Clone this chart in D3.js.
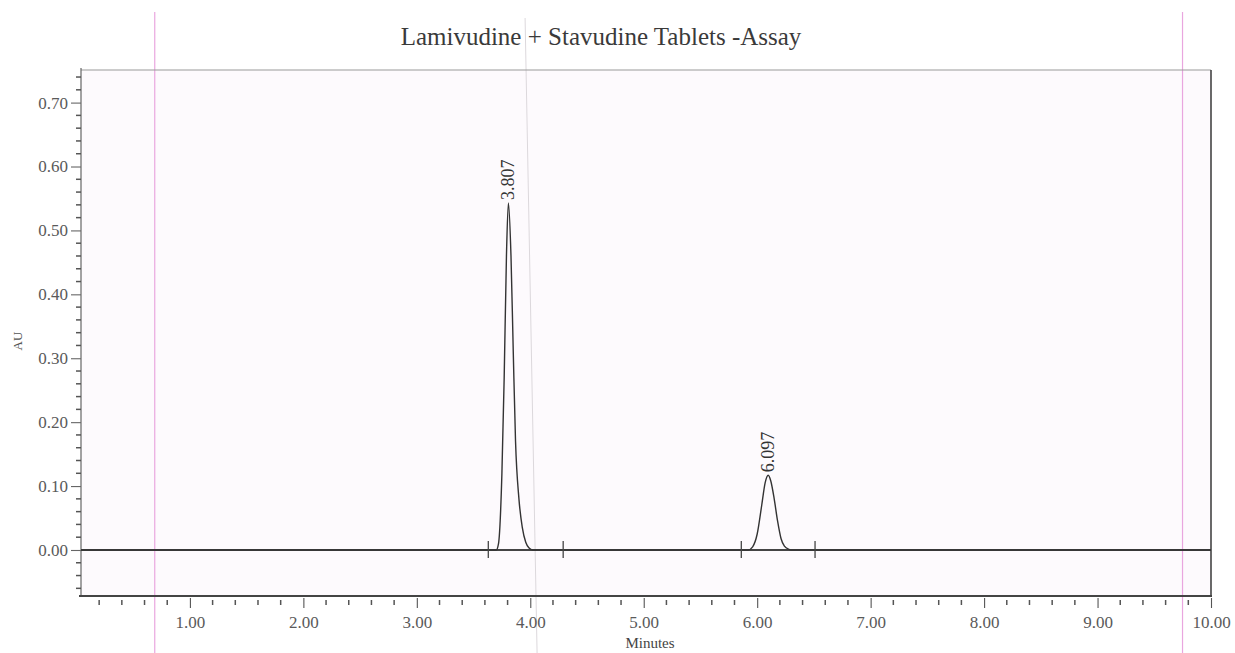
<!DOCTYPE html>
<html>
<head>
<meta charset="utf-8">
<script src="https://cdn.jsdelivr.net/npm/d3@7"></script>
<style>
  body { margin: 0; background: #fff; }
  svg text { font-family: "Liberation Serif", "DejaVu Serif", serif; fill: #4a4a4a; }
</style>
</head>
<body>
<svg id="chart" width="1235" height="653"></svg>
<script>
// chromatogram trace (minutes, AU)
var traceTime = [0.04, 3.70, 3.72, 3.75, 3.77, 3.79, 3.807, 3.83, 3.85, 3.87, 3.90, 3.93, 3.96, 3.99, 4.02,
                 5.92, 5.96, 6.00, 6.04, 6.07, 6.097, 6.12, 6.15, 6.18, 6.21, 6.24, 6.28, 6.30, 10.0];
var traceAU   = [0, 0, 0.01, 0.12, 0.27, 0.46, 0.543, 0.46, 0.31, 0.17, 0.08, 0.035, 0.012, 0.003, 0,
                 0, 0.005, 0.025, 0.07, 0.105, 0.117, 0.108, 0.08, 0.045, 0.018, 0.006, 0.001, 0, 0];
var peakTimes = [3.807, 6.097];
var peakHeights = [0.543, 0.117];
var peakLabels = ["3.807", "6.097"];
var integrationMarks = [3.63, 4.29, 5.86, 6.51];
var xTicks = [1, 2, 3, 4, 5, 6, 7, 8, 9, 10];
var yTicks = [0, 0.1, 0.2, 0.3, 0.4, 0.5, 0.6, 0.7];
var pinkLines = [0.69, 9.749];
var greyLines = [4.06];

(function() {
var svg = d3.select("#chart");
var pLeft = 81, pRight = 1211, pTop = 70, pBottom = 596;

var x = d3.scaleLinear().domain([0.04, 10.0]).range([pLeft, pRight]);
var y = d3.scaleLinear().domain([-0.072, 0.751]).range([pBottom, pTop]);

// plot background
svg.append("rect")
  .attr("x", pLeft).attr("y", pTop)
  .attr("width", pRight - pLeft).attr("height", pBottom - pTop)
  .attr("fill", "#fdfafd");

// scan artefact lines
svg.selectAll("line.pink").data(pinkLines).enter().append("line")
  .attr("class", "pink")
  .attr("x1", function(d) { return x(d); }).attr("x2", function(d) { return x(d); })
  .attr("y1", 12).attr("y2", 653)
  .attr("stroke", "#e9a6df").attr("stroke-width", 1.2);
svg.selectAll("line.grey").data(greyLines).enter().append("line")
  .attr("class", "grey")
  .attr("x1", function(d) { return x(d) - 12; }).attr("x2", function(d) { return x(d); })
  .attr("y1", 18).attr("y2", 653)
  .attr("stroke", "#dcd8dc").attr("stroke-width", 1);

// title
svg.append("text")
  .attr("x", 601).attr("y", 45)
  .attr("text-anchor", "middle")
  .style("font-size", "25px")
  .style("fill", "#3a3a3a")
  .text("Lamivudine + Stavudine Tablets -Assay");

// frame
svg.append("line").attr("x1", pLeft).attr("x2", pRight).attr("y1", pTop).attr("y2", pTop)
  .attr("stroke", "#999").attr("stroke-width", 1.2);
svg.append("line").attr("x1", pRight).attr("x2", pRight).attr("y1", pTop).attr("y2", pBottom)
  .attr("stroke", "#444").attr("stroke-width", 1.6);
svg.append("line").attr("x1", pLeft).attr("x2", pLeft).attr("y1", pTop - 2).attr("y2", pBottom)
  .attr("stroke", "#666").attr("stroke-width", 1.2);
svg.append("line").attr("x1", pLeft - 2).attr("x2", pRight + 1).attr("y1", pBottom).attr("y2", pBottom)
  .attr("stroke", "#444").attr("stroke-width", 2);

// y axis
var yMinor = d3.range(-0.06, 0.751, 0.02).filter(function(v) { return Math.abs(Math.round(v * 10) - v * 10) > 0.01; });
svg.selectAll("line.yminor").data(yMinor).enter().append("line")
  .attr("class", "yminor")
  .attr("x1", pLeft - 5).attr("x2", pLeft)
  .attr("y1", function(d) { return y(d); }).attr("y2", function(d) { return y(d); })
  .attr("stroke", "#555").attr("stroke-width", 1.5);
var yAxis = svg.append("g")
  .attr("transform", "translate(" + pLeft + ",0)")
  .call(d3.axisLeft(y).tickValues(yTicks).tickSize(10).tickPadding(3).tickFormat(d3.format(".2f")));
yAxis.select(".domain").remove();
yAxis.selectAll(".tick line").attr("stroke", "#666").attr("stroke-width", 1.1);
yAxis.selectAll(".tick text").style("font-size", "17px").style("fill", "#5a5a5a").attr("font-family", null);

svg.append("text")
  .attr("transform", "translate(22,341) rotate(-90)")
  .attr("text-anchor", "middle")
  .style("font-size", "13px")
  .style("fill", "#555")
  .text("AU");

// x axis
var xMinor = d3.range(0.2, 10, 0.2).filter(function(v) { return Math.abs(v - Math.round(v)) > 0.01; });
svg.selectAll("line.xminor").data(xMinor).enter().append("line")
  .attr("class", "xminor")
  .attr("x1", function(d) { return x(d); }).attr("x2", function(d) { return x(d); })
  .attr("y1", pBottom + 4).attr("y2", pBottom + 9)
  .attr("stroke", "#555").attr("stroke-width", 1.5);
var xAxis = svg.append("g")
  .attr("transform", "translate(0," + (pBottom + 2) + ")")
  .call(d3.axisBottom(x).tickValues(xTicks).tickSize(10).tickPadding(8).tickFormat(d3.format(".2f")));
xAxis.select(".domain").remove();
xAxis.selectAll(".tick line").attr("stroke", "#555").attr("stroke-width", 1.1);
xAxis.selectAll(".tick text").style("font-size", "17px").style("fill", "#5a5a5a").attr("font-family", null);

svg.append("text")
  .attr("x", 650).attr("y", 648)
  .attr("text-anchor", "middle")
  .style("font-size", "15px")
  .style("fill", "#444")
  .text("Minutes");

// baseline at 0
svg.append("line")
  .attr("x1", x(0.04)).attr("x2", x(10))
  .attr("y1", y(0)).attr("y2", y(0))
  .attr("stroke", "#444").attr("stroke-width", 2);

// trace
var pts = traceTime.map(function(t, i) { return [t, traceAU[i]]; });
svg.append("path")
  .datum(pts)
  .attr("fill", "none")
  .attr("stroke", "#333")
  .attr("stroke-width", 1.4)
  .attr("d", d3.line().x(function(d) { return x(d[0]); }).y(function(d) { return y(d[1]); }).curve(d3.curveMonotoneX));

// integration marks
svg.selectAll("line.mark").data(integrationMarks).enter().append("line")
  .attr("class", "mark")
  .attr("x1", function(d) { return x(d); }).attr("x2", function(d) { return x(d); })
  .attr("y1", y(0) - 9).attr("y2", y(0) + 8)
  .attr("stroke", "#444").attr("stroke-width", 1.3);

// peak labels
svg.selectAll("text.peak").data(peakTimes).enter().append("text")
  .attr("class", "peak")
  .attr("transform", function(d, i) {
    return "translate(" + (x(d) + 6) + "," + (y(peakHeights[i]) - 3) + ") rotate(-90)";
  })
  .style("font-size", "18px")
  .style("fill", "#333")
  .text(function(d, i) { return peakLabels[i]; });
})();
</script>
</body>
</html>
